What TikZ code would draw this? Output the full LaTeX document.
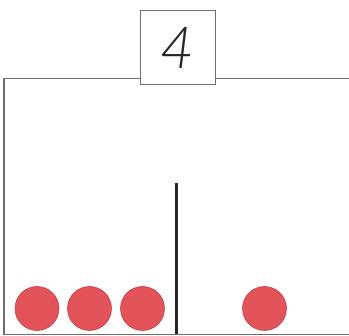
\documentclass[tikz,border=0pt]{standalone}
\usepackage{fontspec}
\newfontfamily\numfont{Lato Light}
\definecolor{dotred}{RGB}{226,84,90}
\definecolor{dotedge}{RGB}{200,60,70}
\definecolor{framegray}{RGB}{110,110,110}
\begin{document}
\begin{tikzpicture}[x=1pt,y=-1pt,
  frame/.style={draw=framegray,line width=1.0pt},
  dot/.style={circle,fill=dotred,draw=dotedge,line width=0.6pt,minimum size=44pt,inner sep=0pt},
  divider/.style={draw=black!85,line width=2.4pt}]
\useasboundingbox (0,0) rectangle (349,336);
\fill[white] (0,0) rectangle (349,336);
\coordinate (tl) at (4,79);
\coordinate (tr) at (349,79);
\coordinate (bl) at (4,334.5);
\coordinate (br) at (349,334.5);
\draw[frame] (tr) -- (tl) -- (bl) -- (br);
\node[frame,fill=white,minimum width=75pt,minimum height=74pt,inner sep=0pt,
  text=black!85,font=\numfont\itshape\fontsize{58}{58}\selectfont] (num) at (177.5,48) {4};
\coordinate (dtop) at (176.5,183);
\coordinate (dbot) at (176.5,334.5);
\draw[divider] (dtop) -- (dbot);
\node[dot] (d1) at (37,308.5) {};
\node[dot] (d2) at (89.5,308.5) {};
\node[dot] (d3) at (142.5,308.5) {};
\node[dot] (d4) at (264.5,308.5) {};
\end{tikzpicture}
\end{document}
